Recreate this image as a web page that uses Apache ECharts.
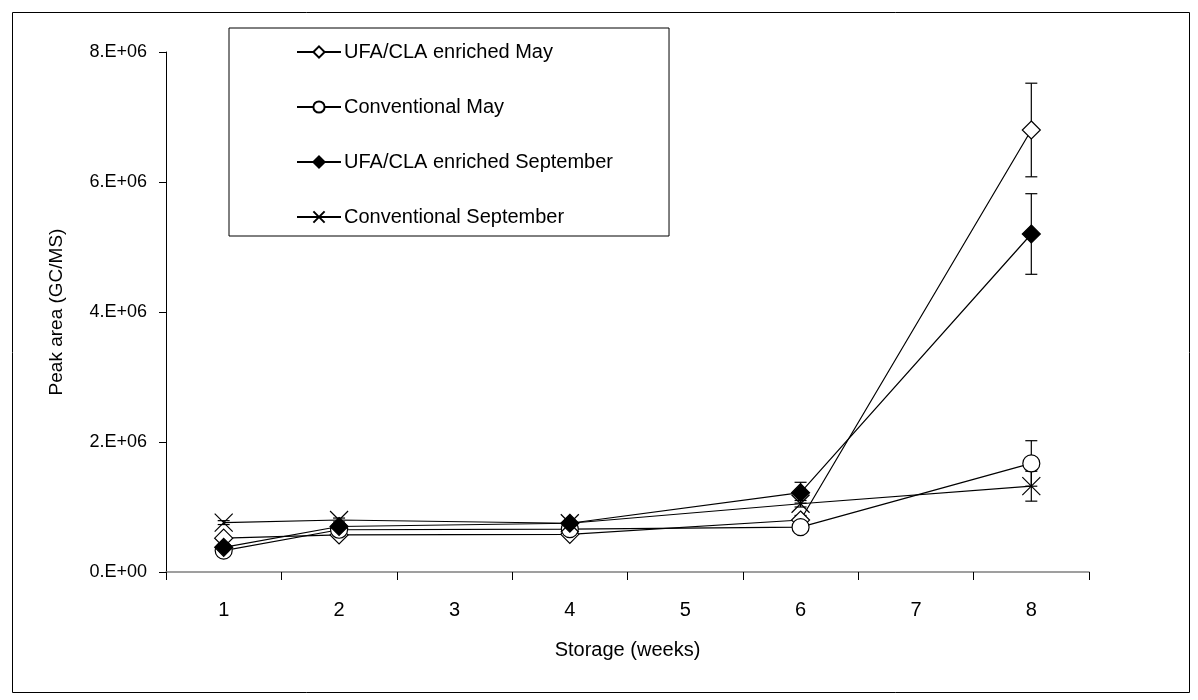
<!DOCTYPE html>
<html>
<head>
<meta charset="utf-8">
<script src="https://cdn.jsdelivr.net/npm/echarts@6/dist/echarts.min.js"></script>
<style>
html,body{margin:0;padding:0;background:#fff;}
#chart{width:1198px;height:700px;}
</style>
</head>
<body>
<div id="chart"></div>
<script>
// Categories (storage weeks) and sampled weeks
const weeks = ['1', '2', '3', '4', '5', '6', '7', '8'];
const sampleWeeks = ['1', '2', '4', '6', '8'];
const yTicks = [0, 2e6, 4e6, 6e6, 8e6];

// Series values (peak area)
const ufaMay = [0.52e6, 0.57e6, 0.58e6, 0.80e6, 6.80e6];
const convMay = [0.33e6, 0.65e6, 0.66e6, 0.69e6, 1.67e6];
const ufaSep = [0.38e6, 0.70e6, 0.75e6, 1.22e6, 5.20e6];
const convSep = [0.76e6, 0.80e6, 0.75e6, 1.05e6, 1.32e6];

// Error bar half-widths
const ufaMayErr = [0.03e6, 0.03e6, 0.03e6, 0.07e6, 0.72e6];
const convMayErr = [0.02e6, 0.03e6, 0.03e6, 0.06e6, 0.35e6];
const ufaSepErr = [0.03e6, 0.03e6, 0.03e6, 0.16e6, 0.62e6];
const convSepErr = [0.03e6, 0.03e6, 0.03e6, 0.05e6, 0.23e6];

const names = ['UFA/CLA enriched May', 'Conventional May', 'UFA/CLA enriched September', 'Conventional September'];

const FONT = '"Liberation Sans", Arial, sans-serif';
const chart = echarts.init(document.getElementById('chart'), null, {renderer: 'canvas'});

function pairs(vals) { return sampleWeeks.map((w, i) => [w, vals[i]]); }
function errData(vals, errs) { return sampleWeeks.map((w, i) => [weeks.indexOf(w), vals[i], errs[i]]); }

function errSeries(vals, errs) {
  return {
    type: 'custom',
    z: 1,
    silent: true,
    encode: {x: 0, y: 1},
    data: errData(vals, errs),
    renderItem: function (params, api) {
      const x = api.value(0), v = api.value(1), e = api.value(2);
      const top = api.coord([x, v + e]);
      const bot = api.coord([x, v - e]);
      const hw = 6;
      const st = {stroke: '#000', lineWidth: 1.2};
      return {
        type: 'group',
        children: [
          {type: 'line', shape: {x1: top[0], y1: top[1], x2: bot[0], y2: bot[1]}, style: st},
          {type: 'line', shape: {x1: top[0] - hw, y1: top[1], x2: top[0] + hw, y2: top[1]}, style: st},
          {type: 'line', shape: {x1: bot[0] - hw, y1: bot[1], x2: bot[0] + hw, y2: bot[1]}, style: st}
        ]
      };
    }
  };
}

function lineSeries(name, vals, symbol, size, fill) {
  return {
    name: name,
    type: 'line',
    z: 3,
    data: pairs(vals),
    symbol: symbol,
    symbolSize: size,
    showAllSymbol: true,
    lineStyle: {color: '#000', width: 1.2},
    itemStyle: {color: fill, borderColor: '#000', borderWidth: 1.2},
    emphasis: {disabled: true}
  };
}

const option = {
  animation: false,
  backgroundColor: '#fff',
  graphic: [{
    type: 'rect', left: 10, top: 10, z: -1,
    shape: {width: 1177, height: 680},
    style: {fill: 'none', stroke: '#000', lineWidth: 1}
  }],
  grid: {left: 166, right: 109, top: 52, bottom: 128, containLabel: false},
  legend: {
    orient: 'vertical',
    left: 229, top: 28,
    padding: [14, 56, 9, 67],
    itemGap: 35,
    itemWidth: 44,
    itemHeight: 14,
    borderColor: '#000',
    borderWidth: 1,
    textStyle: {fontFamily: FONT, fontSize: 20, color: '#000', padding: [0, 0, 0, -2]},
    data: names
  },
  xAxis: {
    type: 'category',
    data: weeks,
    boundaryGap: true,
    name: 'Storage (weeks)',
    nameLocation: 'middle',
    nameGap: 68,
    nameTextStyle: {fontFamily: FONT, fontSize: 20, color: '#000'},
    axisLine: {lineStyle: {color: '#808080', width: 1.5}},
    axisTick: {show: true, length: 8, lineStyle: {color: '#000'}},
    axisLabel: {fontFamily: FONT, fontSize: 20, color: '#000', margin: 28},
    splitLine: {show: false}
  },
  yAxis: {
    type: 'value',
    min: 0, max: 8e6, interval: 2e6,
    name: 'Peak area (GC/MS)',
    nameLocation: 'middle',
    nameRotate: 90,
    nameGap: 100,
    nameTextStyle: {fontFamily: FONT, fontSize: 19, color: '#000'},
    axisLine: {show: true, lineStyle: {color: '#000', width: 1}},
    axisTick: {show: true, length: 7, lineStyle: {color: '#000'}},
    axisLabel: {
      fontFamily: FONT, fontSize: 18, color: '#000', margin: 19,
      formatter: function (v) {
        if (v === 0) return '0.E+00';
        return (v / 1e6).toFixed(0) + '.E+06';
      }
    },
    splitLine: {show: false}
  },
  series: [
    errSeries(ufaMay, ufaMayErr),
    errSeries(convMay, convMayErr),
    errSeries(ufaSep, ufaSepErr),
    errSeries(convSep, convSepErr),
    lineSeries(names[0], ufaMay, 'diamond', 18, '#fff'),
    lineSeries(names[1], convMay, 'circle', 17, '#fff'),
    lineSeries(names[2], ufaSep, 'diamond', 18, '#000'),
    lineSeries(names[3], convSep, 'path://M0,0L16,16M16,0L0,16', 18, '#fff')
  ]
};
chart.setOption(option);
</script>
</body>
</html>
